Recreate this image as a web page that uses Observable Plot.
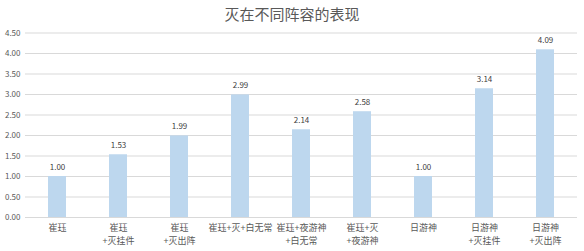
<!DOCTYPE html>
<html><head><meta charset="utf-8">
<script src="https://cdn.jsdelivr.net/npm/d3@7"></script>
<script src="https://cdn.jsdelivr.net/npm/@observablehq/plot@0.6"></script>
<style>
body{margin:0;background:#fff;font-family:"Noto Sans CJK SC","Noto Sans",sans-serif;}
#title{height:26px;line-height:28px;text-align:center;font-size:15px;color:#595959;}
</style></head>
<body>
<div id="title">灭在不同阵容的表现</div>
<div id="chart"></div>
<script>
const categories = ["崔珏","崔珏\n+灭挂件","崔珏\n+灭出阵","崔珏+灭+白无常","崔珏+夜游神\n+白无常","崔珏+灭\n+夜游神","日游神","日游神\n+灭挂件","日游神\n+灭出阵"];
const values = [1.00,1.53,1.99,2.99,2.14,2.58,1.00,3.14,4.09];
const yTicks = [0,0.5,1,1.5,2,2.5,3,3.5,4,4.5];
const data = categories.map((c,i)=>({c, v: values[i]}));
const chart = Plot.plot({
  width: 584, height: 226,
  marginLeft: 25, marginRight: 7, marginTop: 6.5, marginBottom: 35,
  style: {fontFamily: '"Noto Sans CJK SC","Noto Sans",sans-serif', color: "#595959", background: "#fff"},
  x: {domain: categories, paddingInner: 0.7, paddingOuter: 0.35, label: null},
  y: {domain: [0, 4.5], label: null},
  marks: [
    Plot.gridY(yTicks, {stroke: "#d9d9d9", strokeOpacity: 1}),
    Plot.barY(data, {x: "c", y: "v", fill: "#bdd7ee"}),
    Plot.ruleY([0], {stroke: "#d9d9d9"}),
    Plot.text(data, {x: "c", y: "v", text: d => d.v.toFixed(2), dy: -9, fontSize: 8, fill: "#404040"}),
    Plot.axisY(yTicks, {tickFormat: d => d.toFixed(2), tickSize: 0, tickPadding: 5, fontSize: 8, fill: "#595959", label: null}),
    Plot.axisX({tickSize: 0, tickPadding: 5, fontSize: 9, lineHeight: 1.4, fill: "#595959", label: null})
  ]
});
document.getElementById("chart").appendChild(chart);
</script>
</body></html>
